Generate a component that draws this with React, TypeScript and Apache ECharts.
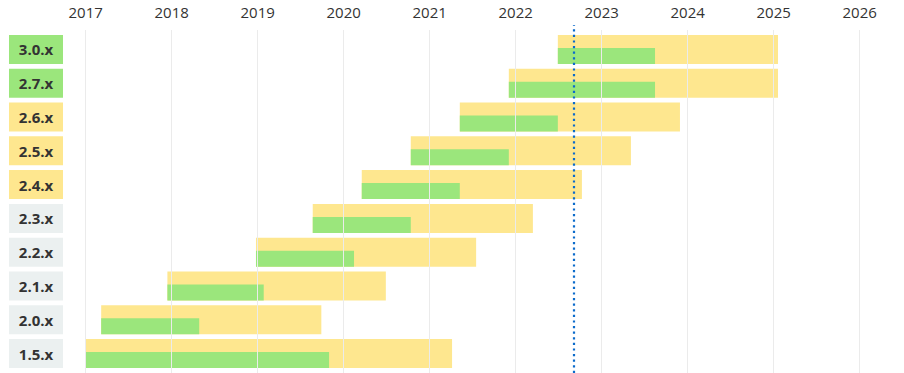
import React, { useEffect, useRef } from "react";
import * as echarts from "echarts";

// Versions, top to bottom
const versions = ["3.0.x", "2.7.x", "2.6.x", "2.5.x", "2.4.x", "2.3.x", "2.2.x", "2.1.x", "2.0.x", "1.5.x"];
// Support status of each version (label box colour)
const status = ["oss", "oss", "com", "com", "com", "eol", "eol", "eol", "eol", "eol"];
// Release date (fractional year)
const releaseDates = [2022.49, 2021.92, 2021.35, 2020.78, 2020.21, 2019.64, 2018.98, 2017.95, 2017.18, 2017.0];
// End of OSS support (fractional year)
const ossEnd = [2023.62, 2023.62, 2022.49, 2021.92, 2021.35, 2020.78, 2020.12, 2019.07, 2018.32, 2019.83];
// End of commercial support (fractional year)
const commercialEnd = [2025.05, 2025.05, 2023.91, 2023.34, 2022.77, 2022.2, 2021.54, 2020.49, 2019.74, 2021.26];
// Today marker
const today = 2022.67;
// Year axis range
const yearMin = 2017;
const yearMax = 2026.5;

const YELLOW = "#fee78f";
const GREEN = "#9be67c";
const GRAY = "#ebf0f0";
const FONT = "'Open Sans', sans-serif";

export default function App() {
  const ref = useRef<HTMLDivElement>(null);

  useEffect(() => {
    if (!ref.current) return;
    const chart = echarts.init(ref.current, undefined, { renderer: "svg" });

    const commercialData = versions.map((_, i) => [i, releaseDates[i], commercialEnd[i]]);
    const ossData = versions.map((_, i) => [i, releaseDates[i], ossEnd[i]]);

    const BAR_H = 29;
    const GREEN_H = 16;

    const makeRender = (h: number, fill: string, bottomAligned: boolean) =>
      (params: any, api: any) => {
        const idx = api.value(0);
        const start = api.coord([api.value(1), idx]);
        const end = api.coord([api.value(2), idx]);
        const top = bottomAligned ? start[1] + BAR_H / 2 - h : start[1] - h / 2;
        return {
          type: "rect",
          shape: { x: start[0], y: top, width: end[0] - start[0], height: h },
          style: { fill },
        };
      };

    const boxStyle = (bg: string) => ({
      backgroundColor: bg,
      width: 54,
      height: 29,
      lineHeight: 29,
      align: "center",
      verticalAlign: "middle",
      fontFamily: FONT,
      fontWeight: 700,
      fontSize: 15,
      color: "#333",
    });

    const W = 817;

    chart.setOption({
      animation: false,
      textStyle: { fontFamily: FONT },
      grid: [
        { left: 85.7, width: W, top: 32.6, height: 337.8 },
        { left: 85.7, width: W, top: 30, height: 343 },
        { left: 85.7, width: W, top: 25, height: 348 },
      ],
      xAxis: [
        { gridIndex: 0, type: "value", min: yearMin, max: yearMax, show: false },
        {
          gridIndex: 1,
          type: "value",
          position: "top",
          min: yearMin,
          max: yearMax,
          interval: 1,
          z: 3,
          axisLine: { show: false },
          axisTick: { show: false },
          axisLabel: {
            fontSize: 15,
            color: "#333",
            fontFamily: FONT,
            margin: 10.5,
            showMaxLabel: false,
            formatter: (v: number) => String(v),
          },
          splitLine: {
            show: true,
            showMaxLine: false,
            lineStyle: { color: "#ebebeb", width: 1 },
          },
        },
        { gridIndex: 2, type: "value", min: yearMin, max: yearMax, show: false },
      ],
      yAxis: [
        {
          gridIndex: 0,
          type: "category",
          data: versions,
          inverse: true,
          axisLine: { show: false },
          axisTick: { show: false },
          splitLine: { show: false },
          axisLabel: {
            margin: 22.7,
            formatter: (value: string, index: number) => `{${status[index]}|${value}}`,
            rich: {
              oss: boxStyle(GREEN),
              com: boxStyle(YELLOW),
              eol: boxStyle(GRAY),
            },
          },
        },
        { gridIndex: 1, type: "value", show: false, min: 0, max: 1 },
        { gridIndex: 2, type: "value", show: false, min: 0, max: 1 },
      ],
      series: [
        {
          type: "custom",
          name: "Commercial support",
          xAxisIndex: 0,
          yAxisIndex: 0,
          z: 1,
          renderItem: makeRender(BAR_H, YELLOW, false),
          encode: { x: [1, 2], y: 0 },
          data: commercialData,
        },
        {
          type: "custom",
          name: "OSS support",
          xAxisIndex: 0,
          yAxisIndex: 0,
          z: 2,
          renderItem: makeRender(GREEN_H, GREEN, true),
          encode: { x: [1, 2], y: 0 },
          data: ossData,
        },
        {
          type: "line",
          xAxisIndex: 2,
          yAxisIndex: 2,
          data: [],
          z: 10,
          markLine: {
            silent: true,
            symbol: "none",
            label: { show: false },
            lineStyle: { color: "#0b6bcb", width: 2.2, type: [2.2, 3.4] },
            data: [{ xAxis: today }],
          },
        },
      ],
    });

    return () => chart.dispose();
  }, []);

  return (
    <div
      ref={ref}
      style={{ position: "fixed", left: 0, top: 0, width: 904, height: 373, background: "#fff" }}
    />
  );
}
